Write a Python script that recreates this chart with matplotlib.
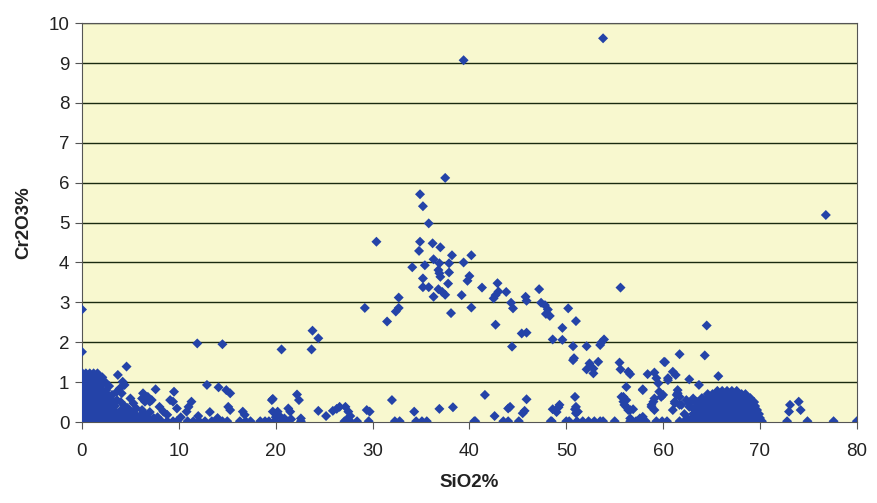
import matplotlib
matplotlib.use("Agg")
import matplotlib.pyplot as plt

# ---- data (SiO2 %, Cr2O3 %) ----
upper_points = [
    (53.8, 9.62), (39.4, 9.07), (37.5, 6.12), (34.9, 5.71), (35.2, 5.41), (35.8, 4.98),
    (30.4, 4.52), (34.9, 4.52), (36.2, 4.48), (37.0, 4.38), (34.8, 4.29), (38.2, 4.18),
    (40.2, 4.18), (36.3, 4.08), (36.9, 3.98), (37.9, 3.98), (39.4, 4.00), (34.1, 3.88),
    (35.4, 3.93), (36.8, 3.81), (36.9, 3.73), (37.0, 3.64), (37.9, 3.75), (35.2, 3.60),
    (40.0, 3.66), (39.8, 3.54), (37.8, 3.47), (35.2, 3.38), (35.8, 3.38), (41.3, 3.37),
    (42.9, 3.48), (36.8, 3.33), (37.2, 3.26), (37.5, 3.19), (36.3, 3.14), (39.2, 3.18),
    (43.8, 3.26), (42.7, 3.18), (42.5, 3.10), (43.0, 3.27), (32.7, 3.12), (32.7, 2.86),
    (32.4, 2.77), (29.2, 2.86), (40.2, 2.87), (38.1, 2.73), (31.5, 2.52), (42.7, 2.44),
    (23.8, 2.29), (24.4, 2.10), (23.7, 1.82), (20.6, 1.82), (47.2, 3.33), (45.8, 3.14),
    (45.9, 3.04), (44.3, 2.99), (44.5, 2.85), (47.4, 2.99), (47.8, 2.93), (48.1, 2.82),
    (47.9, 2.71), (48.3, 2.66), (50.2, 2.85), (51.0, 2.53), (49.6, 2.36), (45.4, 2.22),
    (45.9, 2.24), (48.6, 2.07), (49.6, 2.06), (44.4, 1.89), (50.7, 1.90), (52.1, 1.90),
    (53.6, 1.99), (53.9, 2.07), (53.5, 1.93), (55.6, 3.37), (50.8, 1.60), (64.5, 2.42),
    (61.7, 1.70), (64.3, 1.67), (50.7, 1.55), (52.4, 1.47), (52.1, 1.32), (52.8, 1.34),
    (53.3, 1.51), (52.8, 1.22), (55.5, 1.49), (55.6, 1.32), (56.4, 1.26), (56.6, 1.20),
    (60.2, 1.50), (61.0, 1.26), (61.3, 1.18), (60.5, 1.10), (58.4, 1.20), (59.1, 1.24),
    (59.3, 1.10), (59.5, 0.97), (62.7, 1.07), (63.7, 0.93), (65.7, 1.15), (56.2, 0.88),
    (57.9, 0.82), (76.8, 5.19), (0.0, 2.82), (0.0, 1.76), (11.9, 1.97), (14.5, 1.95),
    (60.1, 1.51),
]

low_points = [
    (4.6, 1.39), (3.7, 1.18), (4.2, 1.01), (4.4, 0.93), (3.9, 0.84), (3.6, 0.76), (4.1, 0.72),
    (7.6, 0.82), (9.5, 0.76), (12.9, 0.93), (14.1, 0.87), (14.9, 0.80), (15.3, 0.72),
    (6.3, 0.72), (6.2, 0.59), (6.5, 0.51), (6.8, 0.63), (7.2, 0.55), (9.1, 0.55), (9.4, 0.51),
    (9.8, 0.34), (8.0, 0.38), (8.4, 0.26), (11.3, 0.51), (11.0, 0.38), (10.8, 0.26),
    (15.1, 0.38), (15.3, 0.30), (16.6, 0.26), (16.8, 0.18), (19.6, 0.55), (19.7, 0.26),
    (1.9, 1.03), (2.2, 0.97), (3.1, 0.68), (3.6, 0.55), (5.0, 0.59), (5.3, 0.47), (5.6, 0.34),
    (6.2, 0.30), (7.0, 0.51), (2.4, 0.43), (2.7, 0.34), (2.9, 0.22), (3.2, 0.30), (3.6, 0.18),
    (3.9, 0.26), (4.3, 0.13), (4.7, 0.35), (5.2, 0.20), (6.0, 0.15), (7.0, 0.25), (7.8, 0.12),
    (8.8, 0.18), (10.2, 0.12), (12.0, 0.15), (13.2, 0.25), (14.0, 0.10),
    (19.7, 0.58), (20.2, 0.26), (20.0, 0.12), (20.4, 0.15), (20.9, 0.09), (21.3, 0.34),
    (21.5, 0.26), (21.6, 0.07), (22.2, 0.69), (22.4, 0.55), (22.6, 0.09), (24.4, 0.28),
    (25.2, 0.15), (25.9, 0.28), (26.3, 0.33), (26.6, 0.38), (27.2, 0.38), (27.5, 0.26),
    (27.7, 0.15), (27.3, 0.05), (29.4, 0.30), (29.7, 0.26), (32.0, 0.55), (34.3, 0.26),
    (36.9, 0.33), (38.3, 0.37),
    (41.6, 0.68), (45.9, 0.57), (44.2, 0.38), (44.0, 0.34), (45.7, 0.28), (45.5, 0.22),
    (42.6, 0.15), (48.6, 0.32), (49.2, 0.37), (49.0, 0.25), (50.9, 0.63), (50.9, 0.32),
    (51.0, 0.22), (55.9, 0.63), (56.2, 0.55), (56.0, 0.43), (56.4, 0.30), (56.9, 0.32),
    (56.6, 0.09), (57.6, 0.09), (57.9, 0.13), (57.9, 0.80), (55.7, 0.63), (55.9, 0.51),
    (56.2, 0.38), (56.6, 0.30), (59.6, 0.76), (59.8, 0.63), (59.0, 0.51), (58.8, 0.38),
    (59.1, 0.30), (61.5, 0.80), (61.4, 0.68), (61.2, 0.51), (61.7, 0.43), (63.1, 0.59),
    (63.4, 0.51), (62.7, 0.38), (63.8, 0.38), (51.0, 0.38), (51.2, 0.26), (49.3, 0.43),
    (61.5, 0.72), (61.7, 0.63), (60.0, 0.68), (59.1, 0.59), (58.8, 0.43), (61.2, 0.47),
    (61.0, 0.30), (61.9, 0.43), (62.4, 0.55), (62.7, 0.47), (63.1, 0.34), (60.5, 1.05),
    (73.1, 0.43), (73.0, 0.26), (74.0, 0.51), (74.2, 0.30), (62.2, 0.20), (62.5, 0.10),
]

axis_sio2 = [4.0, 4.6, 5.2, 5.8, 6.4, 7.0, 7.6, 8.2, 8.8, 9.4, 9.8, 10.9, 11.5, 12.1, 12.7,
             13.4, 13.9, 14.5, 15.0, 16.3, 16.9, 17.4, 18.4, 18.9, 19.3, 19.9, 20.6, 21.3,
             22.6, 27.1, 27.7, 28.4, 29.6, 32.3, 32.8, 34.5, 35.1, 35.6, 40.5, 40.6, 43.5,
             44.0, 45.1, 48.4, 48.5, 50.0, 50.3, 51.1, 51.7, 52.3, 52.9, 53.5, 53.8, 55.0,
             56.6, 57.2, 57.8, 58.2, 59.3, 59.9, 60.4, 61.7, 62.2, 69.0, 69.5, 70.0, 72.8,
             74.9, 77.6, 80.0]
axis_cr2o3 = [0.02] * len(axis_sio2)

left_cluster = [
    (0.05, 1.22), (0.4, 1.22), (0.8, 1.22), (1.2, 1.22), (1.6, 1.22),
    (0.1, 1.12), (0.5, 1.12), (0.9, 1.12), (1.3, 1.12), (1.7, 1.12), (2.1, 1.12),
    (0.05, 1.0), (0.45, 1.0), (0.85, 1.0), (1.25, 1.0), (1.65, 1.0), (2.4, 1.0),
    (0.1, 0.9), (0.5, 0.9), (0.9, 0.9), (1.3, 0.9), (1.7, 0.9), (2.8, 0.9),
    (0.05, 0.8), (0.45, 0.8), (0.85, 0.8), (1.25, 0.8), (1.65, 0.8), (2.05, 0.8), (2.5, 0.8),
    (0.1, 0.7), (0.5, 0.7), (0.9, 0.7), (1.3, 0.7), (1.7, 0.7), (2.1, 0.7), (2.6, 0.7),
    (0.05, 0.6), (0.45, 0.6), (0.85, 0.6), (1.25, 0.6), (1.65, 0.6), (2.05, 0.6), (2.45, 0.6),
    (2.9, 0.6),
    (0.1, 0.5), (0.5, 0.5), (0.9, 0.5), (1.3, 0.5), (1.7, 0.5), (2.1, 0.5), (2.5, 0.5),
    (2.9, 0.5), (4.0, 0.5),
    (0.05, 0.4), (0.45, 0.4), (0.85, 0.4), (1.25, 0.4), (1.65, 0.4), (2.05, 0.4), (2.45, 0.4),
    (3.0, 0.4), (3.4, 0.4), (4.4, 0.4),
    (0.1, 0.3), (0.5, 0.3), (0.9, 0.3), (1.3, 0.3), (1.7, 0.3), (2.1, 0.3), (2.6, 0.3),
    (3.3, 0.3), (4.1, 0.3), (4.9, 0.3),
    (0.05, 0.2), (0.45, 0.2), (0.85, 0.2), (1.25, 0.2), (1.65, 0.2), (2.05, 0.2), (2.45, 0.2),
    (2.85, 0.2), (3.25, 0.2), (4.6, 0.2), (5.5, 0.2), (6.5, 0.2),
    (0.1, 0.1), (0.5, 0.1), (0.9, 0.1), (1.3, 0.1), (1.7, 0.1), (2.1, 0.1), (2.5, 0.1),
    (2.9, 0.1), (3.3, 0.1), (3.7, 0.1), (5.0, 0.1), (5.8, 0.1), (6.9, 0.1), (7.4, 0.1),
    (0.05, 0.02), (0.45, 0.02), (0.85, 0.02), (1.25, 0.02), (1.65, 0.02), (2.05, 0.02),
    (2.45, 0.02), (2.85, 0.02), (3.25, 0.02), (3.65, 0.02),
]

right_cluster = [
    (65.6, 0.78), (66.1, 0.78), (66.6, 0.78), (67.1, 0.78), (67.6, 0.78),
    (64.6, 0.70), (65.1, 0.70), (65.6, 0.70), (66.1, 0.70), (66.6, 0.70), (67.1, 0.70),
    (67.6, 0.70), (68.1, 0.70), (68.5, 0.70),
    (64.0, 0.60), (64.5, 0.60), (65.0, 0.60), (65.5, 0.60), (66.0, 0.60), (66.5, 0.60),
    (67.0, 0.60), (67.5, 0.60), (68.0, 0.60), (68.5, 0.60), (69.0, 0.60),
    (63.6, 0.50), (64.1, 0.50), (64.6, 0.50), (65.1, 0.50), (65.6, 0.50), (66.1, 0.50),
    (66.6, 0.50), (67.1, 0.50), (67.6, 0.50), (68.1, 0.50), (68.6, 0.50), (69.1, 0.50),
    (69.4, 0.50),
    (63.5, 0.40), (64.0, 0.40), (64.5, 0.40), (65.0, 0.40), (65.5, 0.40), (66.0, 0.40),
    (66.5, 0.40), (67.0, 0.40), (67.5, 0.40), (68.0, 0.40), (68.5, 0.40), (69.0, 0.40),
    (69.5, 0.40),
    (63.3, 0.30), (63.8, 0.30), (64.3, 0.30), (64.8, 0.30), (65.3, 0.30), (65.8, 0.30),
    (66.3, 0.30), (66.8, 0.30), (67.3, 0.30), (67.8, 0.30), (68.3, 0.30), (68.8, 0.30),
    (69.3, 0.30), (69.7, 0.30),
    (63.1, 0.20), (63.6, 0.20), (64.1, 0.20), (64.6, 0.20), (65.1, 0.20), (65.6, 0.20),
    (66.1, 0.20), (66.6, 0.20), (67.1, 0.20), (67.6, 0.20), (68.1, 0.20), (68.6, 0.20),
    (69.1, 0.20), (69.6, 0.20), (69.9, 0.20),
    (63.0, 0.10), (63.5, 0.10), (64.0, 0.10), (64.5, 0.10), (65.0, 0.10), (65.5, 0.10),
    (66.0, 0.10), (66.5, 0.10), (67.0, 0.10), (67.5, 0.10), (68.0, 0.10), (68.5, 0.10),
    (69.0, 0.10), (69.5, 0.10), (70.0, 0.10),
    (62.8, 0.02), (63.3, 0.02), (63.8, 0.02), (64.3, 0.02), (64.8, 0.02), (65.3, 0.02),
    (65.8, 0.02), (66.3, 0.02), (66.8, 0.02), (67.3, 0.02), (67.8, 0.02), (68.3, 0.02),
    (68.8, 0.02), (69.3, 0.02), (69.8, 0.02), (70.2, 0.02),
]

x_ticks = [0, 10, 20, 30, 40, 50, 60, 70, 80]
y_ticks = [0, 1, 2, 3, 4, 5, 6, 7, 8, 9, 10]

# ---- assemble ----
pairs = upper_points + low_points + left_cluster + right_cluster
sio2 = [p[0] for p in pairs] + axis_sio2
cr2o3 = [p[1] for p in pairs] + axis_cr2o3

plt.rcParams['font.family'] = ['Liberation Sans', 'DejaVu Sans']

fig = plt.figure(figsize=(8.77, 5.03), dpi=100)
fig.patch.set_facecolor('white')
ax = fig.add_axes([0.0935, 0.161, 0.8835, 0.793])
ax.set_facecolor('#F8F8CF')

for yv in y_ticks[1:]:
    ax.axhline(yv, color='#1a2a10', lw=1.0, zorder=1)

ax.scatter(sio2, cr2o3, marker='D', s=26, color='#2443A8', edgecolors='none', zorder=3)

ax.set_xlim(0, 80)
ax.set_ylim(0, 10)
ax.set_xticks(x_ticks)
ax.set_yticks(y_ticks)
ax.tick_params(axis='both', direction='out', length=5, width=0.8, color='#555555',
               labelsize=13.5, labelcolor='#222222')
ax.tick_params(axis='x', pad=10)
ax.tick_params(axis='y', pad=4)
for side in ['left', 'bottom', 'right', 'top']:
    ax.spines[side].set_color('#555555')
    ax.spines[side].set_linewidth(0.8)

ax.set_xlabel('SiO2%', fontsize=13.5, fontweight='bold', color='#222222', labelpad=10)
ax.set_ylabel('Cr2O3%', fontsize=13.5, fontweight='bold', color='#222222', labelpad=12)

fig.savefig('out.png', dpi=100)
